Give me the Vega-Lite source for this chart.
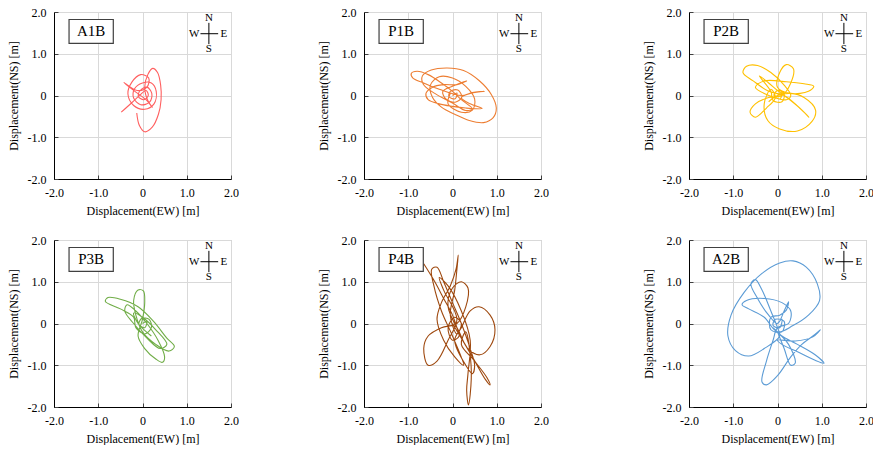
{
"$schema":"https://vega.github.io/schema/vega-lite/v6.json",
"background":"#ffffff",
"padding":{"left":6,"top":5,"right":0,"bottom":0},
"config":{
 "view":{"stroke":"#bfbfbf","strokeWidth":1},
 "text":{"font":"Liberation Serif"}
},
"datasets":{"traj":[
{"p":"A1B","i":0,"x":-0.48,"y":-0.40},{"p":"A1B","i":1,"x":-0.25,"y":-0.18},{"p":"A1B","i":2,"x":-0.05,"y":0.02},{"p":"A1B","i":3,"x":0.08,"y":0.12},{"p":"A1B","i":4,"x":0.13,"y":0.0},{"p":"A1B","i":5,"x":0.03,"y":-0.10},{"p":"A1B","i":6,"x":-0.09,"y":-0.03},{"p":"A1B","i":7,"x":-0.05,"y":0.12},{"p":"A1B","i":8,"x":0.10,"y":0.20},{"p":"A1B","i":9,"x":0.21,"y":0.05},{"p":"A1B","i":10,"x":0.16,"y":-0.16},{"p":"A1B","i":11,"x":-0.04,"y":-0.22},{"p":"A1B","i":12,"x":-0.20,"y":-0.06},{"p":"A1B","i":13,"x":-0.18,"y":0.16},{"p":"A1B","i":14,"x":0.0,"y":0.30},{"p":"A1B","i":15,"x":0.20,"y":0.30},{"p":"A1B","i":16,"x":0.31,"y":0.10},{"p":"A1B","i":17,"x":0.26,"y":-0.20},{"p":"A1B","i":18,"x":0.05,"y":-0.33},{"p":"A1B","i":19,"x":-0.20,"y":-0.24},{"p":"A1B","i":20,"x":-0.33,"y":0.04},{"p":"A1B","i":21,"x":-0.24,"y":0.32},{"p":"A1B","i":22,"x":-0.04,"y":0.50},{"p":"A1B","i":23,"x":0.14,"y":0.42},{"p":"A1B","i":24,"x":0.10,"y":0.20},{"p":"A1B","i":25,"x":-0.12,"y":0.12},{"p":"A1B","i":26,"x":-0.42,"y":0.31},{"p":"A1B","i":27,"x":-0.15,"y":0.08},{"p":"A1B","i":28,"x":0.10,"y":-0.12},{"p":"A1B","i":29,"x":0.22,"y":-0.28},{"p":"A1B","i":30,"x":0.12,"y":-0.12},{"p":"A1B","i":31,"x":0.05,"y":0.20},{"p":"A1B","i":32,"x":0.12,"y":0.50},{"p":"A1B","i":33,"x":0.23,"y":0.65},{"p":"A1B","i":34,"x":0.34,"y":0.55},{"p":"A1B","i":35,"x":0.41,"y":0.25},{"p":"A1B","i":36,"x":0.42,"y":-0.10},{"p":"A1B","i":37,"x":0.36,"y":-0.45},{"p":"A1B","i":38,"x":0.22,"y":-0.76},{"p":"A1B","i":39,"x":0.05,"y":-0.87},{"p":"A1B","i":40,"x":-0.07,"y":-0.72},{"p":"A1B","i":41,"x":-0.13,"y":-0.42},
{"p":"P1B","i":0,"x":0.0,"y":0.0},{"p":"P1B","i":1,"x":0.10,"y":0.06},{"p":"P1B","i":2,"x":0.06,"y":-0.08},{"p":"P1B","i":3,"x":-0.08,"y":-0.03},{"p":"P1B","i":4,"x":-0.05,"y":0.10},{"p":"P1B","i":5,"x":0.12,"y":0.13},{"p":"P1B","i":6,"x":0.21,"y":-0.04},{"p":"P1B","i":7,"x":0.06,"y":-0.16},{"p":"P1B","i":8,"x":-0.15,"y":-0.08},{"p":"P1B","i":9,"x":-0.22,"y":0.10},{"p":"P1B","i":10,"x":0.0,"y":0.22},{"p":"P1B","i":11,"x":0.15,"y":0.29},{"p":"P1B","i":12,"x":0.32,"y":0.35},{"p":"P1B","i":13,"x":0.10,"y":0.26},{"p":"P1B","i":14,"x":-0.20,"y":0.26},{"p":"P1B","i":15,"x":-0.45,"y":0.20},{"p":"P1B","i":16,"x":-0.60,"y":0.05},{"p":"P1B","i":17,"x":-0.55,"y":-0.10},{"p":"P1B","i":18,"x":-0.30,"y":-0.20},{"p":"P1B","i":19,"x":0.0,"y":-0.26},{"p":"P1B","i":20,"x":0.30,"y":-0.30},{"p":"P1B","i":21,"x":0.67,"y":-0.31},{"p":"P1B","i":22,"x":0.40,"y":-0.20},{"p":"P1B","i":23,"x":0.20,"y":-0.05},{"p":"P1B","i":24,"x":0.40,"y":0.05},{"p":"P1B","i":25,"x":0.72,"y":0.10},{"p":"P1B","i":26,"x":0.45,"y":0.07},{"p":"P1B","i":27,"x":0.20,"y":0.0},{"p":"P1B","i":28,"x":-0.30,"y":0.15},{"p":"P1B","i":29,"x":-0.65,"y":0.30},{"p":"P1B","i":30,"x":-0.90,"y":0.42},{"p":"P1B","i":31,"x":-0.93,"y":0.53},{"p":"P1B","i":32,"x":-0.80,"y":0.58},{"p":"P1B","i":33,"x":-0.55,"y":0.50},{"p":"P1B","i":34,"x":-0.25,"y":0.30},{"p":"P1B","i":35,"x":0.0,"y":0.10},{"p":"P1B","i":36,"x":0.20,"y":-0.10},{"p":"P1B","i":37,"x":0.45,"y":-0.32},{"p":"P1B","i":38,"x":0.30,"y":-0.36},{"p":"P1B","i":39,"x":0.0,"y":-0.18},{"p":"P1B","i":40,"x":-0.40,"y":0.05},{"p":"P1B","i":41,"x":-0.66,"y":0.27},{"p":"P1B","i":42,"x":-0.68,"y":0.47},{"p":"P1B","i":43,"x":-0.48,"y":0.61},{"p":"P1B","i":44,"x":-0.12,"y":0.66},{"p":"P1B","i":45,"x":0.25,"y":0.60},{"p":"P1B","i":46,"x":0.60,"y":0.36},{"p":"P1B","i":47,"x":0.88,"y":0.02},{"p":"P1B","i":48,"x":0.99,"y":-0.30},{"p":"P1B","i":49,"x":0.92,"y":-0.53},{"p":"P1B","i":50,"x":0.70,"y":-0.65},{"p":"P1B","i":51,"x":0.38,"y":-0.60},{"p":"P1B","i":52,"x":0.05,"y":-0.45},{"p":"P1B","i":53,"x":-0.25,"y":-0.28},{"p":"P1B","i":54,"x":-0.45,"y":-0.05},{"p":"P1B","i":55,"x":-0.50,"y":0.25},{"p":"P1B","i":56,"x":-0.30,"y":0.45},{"p":"P1B","i":57,"x":0.0,"y":0.42},{"p":"P1B","i":58,"x":0.30,"y":0.22},{"p":"P1B","i":59,"x":0.50,"y":-0.08},{"p":"P1B","i":60,"x":0.45,"y":-0.35},{"p":"P1B","i":61,"x":0.20,"y":-0.40},{"p":"P1B","i":62,"x":-0.10,"y":-0.20},{"p":"P1B","i":63,"x":-0.05,"y":0.05},
{"p":"P2B","i":0,"x":0.0,"y":0.0},{"p":"P2B","i":1,"x":0.10,"y":0.08},{"p":"P2B","i":2,"x":0.06,"y":-0.08},{"p":"P2B","i":3,"x":-0.08,"y":0.0},{"p":"P2B","i":4,"x":0.0,"y":0.12},{"p":"P2B","i":5,"x":0.15,"y":0.05},{"p":"P2B","i":6,"x":0.10,"y":-0.15},{"p":"P2B","i":7,"x":-0.10,"y":-0.12},{"p":"P2B","i":8,"x":-0.15,"y":0.10},{"p":"P2B","i":9,"x":-0.41,"y":0.47},{"p":"P2B","i":10,"x":-0.20,"y":0.30},{"p":"P2B","i":11,"x":0.0,"y":0.12},{"p":"P2B","i":12,"x":0.25,"y":-0.08},{"p":"P2B","i":13,"x":0.50,"y":-0.30},{"p":"P2B","i":14,"x":0.71,"y":-0.52},{"p":"P2B","i":15,"x":0.45,"y":-0.25},{"p":"P2B","i":16,"x":0.15,"y":0.0},{"p":"P2B","i":17,"x":-0.20,"y":0.10},{"p":"P2B","i":18,"x":-0.55,"y":0.35},{"p":"P2B","i":19,"x":-0.78,"y":0.55},{"p":"P2B","i":20,"x":-0.70,"y":0.70},{"p":"P2B","i":21,"x":-0.45,"y":0.72},{"p":"P2B","i":22,"x":-0.15,"y":0.55},{"p":"P2B","i":23,"x":0.15,"y":0.25},{"p":"P2B","i":24,"x":0.30,"y":0.0},{"p":"P2B","i":25,"x":0.20,"y":-0.10},{"p":"P2B","i":26,"x":-0.30,"y":0.05},{"p":"P2B","i":27,"x":-0.50,"y":0.20},{"p":"P2B","i":28,"x":-0.30,"y":0.35},{"p":"P2B","i":29,"x":0.20,"y":0.33},{"p":"P2B","i":30,"x":0.60,"y":0.28},{"p":"P2B","i":31,"x":0.82,"y":0.22},{"p":"P2B","i":32,"x":0.70,"y":0.10},{"p":"P2B","i":33,"x":0.30,"y":0.05},{"p":"P2B","i":34,"x":0.0,"y":0.20},{"p":"P2B","i":35,"x":0.05,"y":0.55},{"p":"P2B","i":36,"x":0.20,"y":0.74},{"p":"P2B","i":37,"x":0.36,"y":0.64},{"p":"P2B","i":38,"x":0.30,"y":0.30},{"p":"P2B","i":39,"x":0.10,"y":0.0},{"p":"P2B","i":40,"x":-0.20,"y":-0.05},{"p":"P2B","i":41,"x":-0.50,"y":-0.20},{"p":"P2B","i":42,"x":-0.62,"y":-0.40},{"p":"P2B","i":43,"x":-0.50,"y":-0.52},{"p":"P2B","i":44,"x":-0.25,"y":-0.30},{"p":"P2B","i":45,"x":-0.05,"y":-0.05},{"p":"P2B","i":46,"x":-0.15,"y":0.15},{"p":"P2B","i":47,"x":-0.30,"y":-0.20},{"p":"P2B","i":48,"x":-0.22,"y":-0.60},{"p":"P2B","i":49,"x":0.05,"y":-0.80},{"p":"P2B","i":50,"x":0.45,"y":-0.85},{"p":"P2B","i":51,"x":0.78,"y":-0.62},{"p":"P2B","i":52,"x":0.86,"y":-0.35},{"p":"P2B","i":53,"x":0.60,"y":-0.05},{"p":"P2B","i":54,"x":0.30,"y":0.05},{"p":"P2B","i":55,"x":0.0,"y":0.0},{"p":"P2B","i":56,"x":-0.20,"y":-0.15},
{"p":"P3B","i":0,"x":0.0,"y":0.0},{"p":"P3B","i":1,"x":0.10,"y":0.05},{"p":"P3B","i":2,"x":0.05,"y":-0.10},{"p":"P3B","i":3,"x":-0.08,"y":-0.02},{"p":"P3B","i":4,"x":-0.02,"y":0.12},{"p":"P3B","i":5,"x":0.15,"y":0.10},{"p":"P3B","i":6,"x":0.20,"y":-0.10},{"p":"P3B","i":7,"x":0.05,"y":-0.25},{"p":"P3B","i":8,"x":-0.15,"y":-0.10},{"p":"P3B","i":9,"x":-0.20,"y":0.15},{"p":"P3B","i":10,"x":-0.50,"y":0.35},{"p":"P3B","i":11,"x":-0.84,"y":0.53},{"p":"P3B","i":12,"x":-0.78,"y":0.62},{"p":"P3B","i":13,"x":-0.50,"y":0.58},{"p":"P3B","i":14,"x":-0.10,"y":0.40},{"p":"P3B","i":15,"x":0.25,"y":0.05},{"p":"P3B","i":16,"x":0.55,"y":-0.35},{"p":"P3B","i":17,"x":0.72,"y":-0.55},{"p":"P3B","i":18,"x":0.60,"y":-0.66},{"p":"P3B","i":19,"x":0.30,"y":-0.50},{"p":"P3B","i":20,"x":0.0,"y":-0.20},{"p":"P3B","i":21,"x":-0.15,"y":0.20},{"p":"P3B","i":22,"x":-0.20,"y":0.55},{"p":"P3B","i":23,"x":-0.10,"y":0.80},{"p":"P3B","i":24,"x":0.02,"y":0.78},{"p":"P3B","i":25,"x":0.05,"y":0.50},{"p":"P3B","i":26,"x":0.0,"y":0.10},{"p":"P3B","i":27,"x":-0.10,"y":-0.30},{"p":"P3B","i":28,"x":0.05,"y":-0.60},{"p":"P3B","i":29,"x":0.30,"y":-0.85},{"p":"P3B","i":30,"x":0.45,"y":-0.93},{"p":"P3B","i":31,"x":0.50,"y":-0.80},{"p":"P3B","i":32,"x":0.35,"y":-0.40},{"p":"P3B","i":33,"x":0.10,"y":0.0},{"p":"P3B","i":34,"x":-0.15,"y":0.30},{"p":"P3B","i":35,"x":-0.35,"y":0.45},{"p":"P3B","i":36,"x":-0.40,"y":0.30},{"p":"P3B","i":37,"x":-0.20,"y":0.0},{"p":"P3B","i":38,"x":0.10,"y":-0.35},{"p":"P3B","i":39,"x":0.40,"y":-0.60},{"p":"P3B","i":40,"x":0.55,"y":-0.50},{"p":"P3B","i":41,"x":0.30,"y":-0.15},{"p":"P3B","i":42,"x":0.0,"y":0.15},{"p":"P3B","i":43,"x":-0.20,"y":0.25},{"p":"P3B","i":44,"x":-0.10,"y":0.0},{"p":"P3B","i":45,"x":0.20,"y":-0.30},
{"p":"P4B","i":0,"x":-0.65,"y":1.43},{"p":"P4B","i":1,"x":-0.40,"y":1.00},{"p":"P4B","i":2,"x":-0.20,"y":0.60},{"p":"P4B","i":3,"x":0.0,"y":0.20},{"p":"P4B","i":4,"x":0.10,"y":-0.10},{"p":"P4B","i":5,"x":0.15,"y":-0.30},{"p":"P4B","i":6,"x":0.0,"y":-0.40},{"p":"P4B","i":7,"x":-0.10,"y":-0.10},{"p":"P4B","i":8,"x":0.05,"y":0.15},{"p":"P4B","i":9,"x":0.20,"y":0.0},{"p":"P4B","i":10,"x":0.10,"y":-0.25},{"p":"P4B","i":11,"x":-0.05,"y":0.20},{"p":"P4B","i":12,"x":0.05,"y":0.80},{"p":"P4B","i":13,"x":0.10,"y":1.30},{"p":"P4B","i":14,"x":0.13,"y":1.64},{"p":"P4B","i":15,"x":0.08,"y":1.30},{"p":"P4B","i":16,"x":-0.05,"y":0.90},{"p":"P4B","i":17,"x":-0.25,"y":0.50},{"p":"P4B","i":18,"x":-0.35,"y":0.10},{"p":"P4B","i":19,"x":-0.20,"y":-0.40},{"p":"P4B","i":20,"x":0.05,"y":-0.80},{"p":"P4B","i":21,"x":0.25,"y":-1.00},{"p":"P4B","i":22,"x":0.0,"y":-0.30},{"p":"P4B","i":23,"x":-0.25,"y":0.30},{"p":"P4B","i":24,"x":-0.42,"y":0.90},{"p":"P4B","i":25,"x":-0.47,"y":1.30},{"p":"P4B","i":26,"x":-0.35,"y":1.35},{"p":"P4B","i":27,"x":-0.20,"y":1.00},{"p":"P4B","i":28,"x":0.0,"y":0.50},{"p":"P4B","i":29,"x":0.20,"y":0.0},{"p":"P4B","i":30,"x":0.40,"y":-0.60},{"p":"P4B","i":31,"x":0.50,"y":-1.00},{"p":"P4B","i":32,"x":0.45,"y":-1.20},{"p":"P4B","i":33,"x":0.30,"y":-1.00},{"p":"P4B","i":34,"x":0.05,"y":-0.40},{"p":"P4B","i":35,"x":0.20,"y":-0.10},{"p":"P4B","i":36,"x":0.40,"y":0.30},{"p":"P4B","i":37,"x":0.60,"y":0.40},{"p":"P4B","i":38,"x":0.85,"y":0.20},{"p":"P4B","i":39,"x":0.96,"y":-0.15},{"p":"P4B","i":40,"x":0.85,"y":-0.55},{"p":"P4B","i":41,"x":0.62,"y":-0.75},{"p":"P4B","i":42,"x":0.35,"y":-0.60},{"p":"P4B","i":43,"x":0.15,"y":-0.20},{"p":"P4B","i":44,"x":-0.10,"y":0.40},{"p":"P4B","i":45,"x":0.0,"y":0.85},{"p":"P4B","i":46,"x":0.20,"y":1.00},{"p":"P4B","i":47,"x":0.35,"y":0.85},{"p":"P4B","i":48,"x":0.30,"y":0.40},{"p":"P4B","i":49,"x":0.10,"y":0.0},{"p":"P4B","i":50,"x":-0.25,"y":-0.10},{"p":"P4B","i":51,"x":-0.55,"y":-0.30},{"p":"P4B","i":52,"x":-0.65,"y":-0.60},{"p":"P4B","i":53,"x":-0.55,"y":-1.00},{"p":"P4B","i":54,"x":-0.35,"y":-0.90},{"p":"P4B","i":55,"x":-0.10,"y":-0.40},{"p":"P4B","i":56,"x":0.10,"y":0.10},{"p":"P4B","i":57,"x":-0.20,"y":0.80},{"p":"P4B","i":58,"x":-0.30,"y":1.10},{"p":"P4B","i":59,"x":-0.10,"y":0.90},{"p":"P4B","i":60,"x":0.20,"y":0.30},{"p":"P4B","i":61,"x":0.40,"y":-0.40},{"p":"P4B","i":62,"x":0.35,"y":-1.20},{"p":"P4B","i":63,"x":0.32,"y":-1.60},{"p":"P4B","i":64,"x":0.36,"y":-1.95},{"p":"P4B","i":65,"x":0.40,"y":-1.70},{"p":"P4B","i":66,"x":0.42,"y":-1.00},{"p":"P4B","i":67,"x":0.30,"y":-0.20},{"p":"P4B","i":68,"x":0.20,"y":-0.50},{"p":"P4B","i":69,"x":0.50,"y":-0.90},{"p":"P4B","i":70,"x":0.78,"y":-1.30},{"p":"P4B","i":71,"x":0.85,"y":-1.47},{"p":"P4B","i":72,"x":0.75,"y":-1.35},{"p":"P4B","i":73,"x":0.45,"y":-0.80},{"p":"P4B","i":74,"x":0.20,"y":-0.35},{"p":"P4B","i":75,"x":0.0,"y":0.0},
{"p":"A2B","i":0,"x":0.0,"y":0.0},{"p":"A2B","i":1,"x":0.10,"y":0.10},{"p":"A2B","i":2,"x":0.05,"y":-0.10},{"p":"A2B","i":3,"x":-0.10,"y":-0.05},{"p":"A2B","i":4,"x":-0.05,"y":0.10},{"p":"A2B","i":5,"x":0.15,"y":0.05},{"p":"A2B","i":6,"x":0.10,"y":-0.20},{"p":"A2B","i":7,"x":-0.15,"y":-0.15},{"p":"A2B","i":8,"x":-0.15,"y":0.15},{"p":"A2B","i":9,"x":0.05,"y":0.20},{"p":"A2B","i":10,"x":0.20,"y":0.32},{"p":"A2B","i":11,"x":0.25,"y":0.52},{"p":"A2B","i":12,"x":0.15,"y":0.30},{"p":"A2B","i":13,"x":0.0,"y":0.0},{"p":"A2B","i":14,"x":-0.20,"y":0.20},{"p":"A2B","i":15,"x":-0.45,"y":0.60},{"p":"A2B","i":16,"x":-0.60,"y":0.95},{"p":"A2B","i":17,"x":-0.50,"y":1.05},{"p":"A2B","i":18,"x":-0.35,"y":0.80},{"p":"A2B","i":19,"x":-0.15,"y":0.30},{"p":"A2B","i":20,"x":0.0,"y":-0.10},{"p":"A2B","i":21,"x":0.05,"y":-0.30},{"p":"A2B","i":22,"x":-0.30,"y":-0.60},{"p":"A2B","i":23,"x":-0.65,"y":-0.78},{"p":"A2B","i":24,"x":-0.95,"y":-0.65},{"p":"A2B","i":25,"x":-1.12,"y":-0.30},{"p":"A2B","i":26,"x":-1.05,"y":0.20},{"p":"A2B","i":27,"x":-0.75,"y":0.75},{"p":"A2B","i":28,"x":-0.35,"y":1.20},{"p":"A2B","i":29,"x":0.05,"y":1.45},{"p":"A2B","i":30,"x":0.35,"y":1.50},{"p":"A2B","i":31,"x":0.65,"y":1.35},{"p":"A2B","i":32,"x":0.90,"y":0.95},{"p":"A2B","i":33,"x":0.95,"y":0.55},{"p":"A2B","i":34,"x":0.70,"y":0.20},{"p":"A2B","i":35,"x":0.35,"y":-0.05},{"p":"A2B","i":36,"x":0.0,"y":-0.20},{"p":"A2B","i":37,"x":-0.30,"y":0.15},{"p":"A2B","i":38,"x":-0.65,"y":0.35},{"p":"A2B","i":39,"x":-0.80,"y":0.45},{"p":"A2B","i":40,"x":-0.70,"y":0.55},{"p":"A2B","i":41,"x":-0.30,"y":0.60},{"p":"A2B","i":42,"x":0.10,"y":0.50},{"p":"A2B","i":43,"x":0.30,"y":0.30},{"p":"A2B","i":44,"x":0.25,"y":0.0},{"p":"A2B","i":45,"x":0.0,"y":-0.10},{"p":"A2B","i":46,"x":-0.10,"y":-0.40},{"p":"A2B","i":47,"x":-0.25,"y":-0.90},{"p":"A2B","i":48,"x":-0.35,"y":-1.40},{"p":"A2B","i":49,"x":-0.25,"y":-1.47},{"p":"A2B","i":50,"x":0.0,"y":-1.25},{"p":"A2B","i":51,"x":0.30,"y":-0.80},{"p":"A2B","i":52,"x":0.55,"y":-0.50},{"p":"A2B","i":53,"x":0.80,"y":-0.30},{"p":"A2B","i":54,"x":0.97,"y":-0.15},{"p":"A2B","i":55,"x":0.80,"y":-0.32},{"p":"A2B","i":56,"x":0.40,"y":-0.42},{"p":"A2B","i":57,"x":0.0,"y":-0.40},{"p":"A2B","i":58,"x":0.10,"y":-0.50},{"p":"A2B","i":59,"x":0.50,"y":-0.70},{"p":"A2B","i":60,"x":0.85,"y":-0.88},{"p":"A2B","i":61,"x":1.05,"y":-0.95},{"p":"A2B","i":62,"x":0.85,"y":-0.75},{"p":"A2B","i":63,"x":0.45,"y":-0.50},{"p":"A2B","i":64,"x":0.10,"y":-0.30},{"p":"A2B","i":65,"x":-0.10,"y":-0.10},{"p":"A2B","i":66,"x":0.25,"y":-0.50},{"p":"A2B","i":67,"x":0.40,"y":-0.95},{"p":"A2B","i":68,"x":0.30,"y":-1.00},{"p":"A2B","i":69,"x":0.15,"y":-0.60},{"p":"A2B","i":70,"x":0.0,"y":-0.20}
]},
"vconcat":[
 {"hconcat":[
  {"hconcat":[
   {"width":177,"height":167,"layer":[
    {"data":{"name":"traj"},"transform":[{"filter":"datum.p === 'A1B'"}],"mark":{"type":"line","interpolate":"catmull-rom","color":"#ff5f5f","strokeWidth":1.1},"encoding":{"x":{"field":"x","type":"quantitative","scale":{"domain":[-2,2],"nice":false,"zero":false},"axis":{"title":"Displacement(EW) [m]","values":[-2,-1.5,-1,-0.5,0,0.5,1,1.5,2],"labelExpr":"datum.value === 0 ? '0' : (abs(datum.value) % 1 > 0 ? '' : (datum.value < 0 ? '-' : '') + format(abs(datum.value), '.1f'))","labelFont":"Liberation Serif","labelFontSize":12,"labelColor":"#000000","titleFont":"Liberation Serif","titleFontSize":12,"titleFontWeight":"normal","titleColor":"#000000","gridColor":"#d9d9d9","domainColor":"#000000","tickColor":"#404040","tickSize":-4,"labelPadding":12,"labelFlush":false,"labelOverlap":false,"titlePadding":7}},"y":{"field":"y","type":"quantitative","scale":{"domain":[-2,2],"nice":false,"zero":false},"axis":{"title":"Displacement(NS) [m]","values":[-2,-1.5,-1,-0.5,0,0.5,1,1.5,2],"labelExpr":"datum.value === 0 ? '0' : (abs(datum.value) % 1 > 0 ? '' : (datum.value < 0 ? '-' : '') + format(abs(datum.value), '.1f'))","labelFont":"Liberation Serif","labelFontSize":12,"labelColor":"#000000","titleFont":"Liberation Serif","titleFontSize":12,"titleFontWeight":"normal","titleColor":"#000000","gridColor":"#d9d9d9","domainColor":"#000000","tickColor":"#404040","tickSize":-4,"labelPadding":12,"labelFlush":false,"labelOverlap":false,"titlePadding":7}},"order":{"field":"i","type":"quantitative"}}},
    {"data":{"values":[{}]},"mark":{"type":"rect","fill":"#ffffff","stroke":"#404040","strokeWidth":1.2},"encoding":{"x":{"datum":-1.66},"x2":{"datum":-0.66},"y":{"datum":1.82},"y2":{"datum":1.25}}},
    {"data":{"values":[{}]},"mark":{"type":"text","fontSize":15},"encoding":{"x":{"datum":-1.16},"y":{"datum":1.535},"text":{"value":"A1B"}}},
    {"data":{"values":[{}]},"mark":{"type":"rule","color":"#000000","strokeWidth":1},"encoding":{"x":{"datum":1.31},"x2":{"datum":1.71},"y":{"datum":1.48}}},
    {"data":{"values":[{}]},"mark":{"type":"rule","color":"#000000","strokeWidth":1},"encoding":{"x":{"datum":1.5},"y":{"datum":1.23},"y2":{"datum":1.74}}},
    {"data":{"values":[{}]},"mark":{"type":"text","fontSize":11},"encoding":{"x":{"datum":1.5},"y":{"datum":1.86},"text":{"value":"N"}}},
    {"data":{"values":[{}]},"mark":{"type":"text","fontSize":11},"encoding":{"x":{"datum":1.5},"y":{"datum":1.11},"text":{"value":"S"}}},
    {"data":{"values":[{}]},"mark":{"type":"text","fontSize":11},"encoding":{"x":{"datum":1.17},"y":{"datum":1.48},"text":{"value":"W"}}},
    {"data":{"values":[{}]},"mark":{"type":"text","fontSize":11},"encoding":{"x":{"datum":1.84},"y":{"datum":1.48},"text":{"value":"E"}}}
   ]},
   {"width":177,"height":167,"layer":[
    {"data":{"name":"traj"},"transform":[{"filter":"datum.p === 'P1B'"}],"mark":{"type":"line","interpolate":"catmull-rom","color":"#ed7d31","strokeWidth":1.1},"encoding":{"x":{"field":"x","type":"quantitative","scale":{"domain":[-2,2],"nice":false,"zero":false},"axis":{"title":"Displacement(EW) [m]","values":[-2,-1.5,-1,-0.5,0,0.5,1,1.5,2],"labelExpr":"datum.value === 0 ? '0' : (abs(datum.value) % 1 > 0 ? '' : (datum.value < 0 ? '-' : '') + format(abs(datum.value), '.1f'))","labelFont":"Liberation Serif","labelFontSize":12,"labelColor":"#000000","titleFont":"Liberation Serif","titleFontSize":12,"titleFontWeight":"normal","titleColor":"#000000","gridColor":"#d9d9d9","domainColor":"#000000","tickColor":"#404040","tickSize":-4,"labelPadding":12,"labelFlush":false,"labelOverlap":false,"titlePadding":7}},"y":{"field":"y","type":"quantitative","scale":{"domain":[-2,2],"nice":false,"zero":false},"axis":{"title":"Displacement(NS) [m]","values":[-2,-1.5,-1,-0.5,0,0.5,1,1.5,2],"labelExpr":"datum.value === 0 ? '0' : (abs(datum.value) % 1 > 0 ? '' : (datum.value < 0 ? '-' : '') + format(abs(datum.value), '.1f'))","labelFont":"Liberation Serif","labelFontSize":12,"labelColor":"#000000","titleFont":"Liberation Serif","titleFontSize":12,"titleFontWeight":"normal","titleColor":"#000000","gridColor":"#d9d9d9","domainColor":"#000000","tickColor":"#404040","tickSize":-4,"labelPadding":12,"labelFlush":false,"labelOverlap":false,"titlePadding":7}},"order":{"field":"i","type":"quantitative"}}},
    {"data":{"values":[{}]},"mark":{"type":"rect","fill":"#ffffff","stroke":"#404040","strokeWidth":1.2},"encoding":{"x":{"datum":-1.66},"x2":{"datum":-0.66},"y":{"datum":1.82},"y2":{"datum":1.25}}},
    {"data":{"values":[{}]},"mark":{"type":"text","fontSize":15},"encoding":{"x":{"datum":-1.16},"y":{"datum":1.535},"text":{"value":"P1B"}}},
    {"data":{"values":[{}]},"mark":{"type":"rule","color":"#000000","strokeWidth":1},"encoding":{"x":{"datum":1.31},"x2":{"datum":1.71},"y":{"datum":1.48}}},
    {"data":{"values":[{}]},"mark":{"type":"rule","color":"#000000","strokeWidth":1},"encoding":{"x":{"datum":1.5},"y":{"datum":1.23},"y2":{"datum":1.74}}},
    {"data":{"values":[{}]},"mark":{"type":"text","fontSize":11},"encoding":{"x":{"datum":1.5},"y":{"datum":1.86},"text":{"value":"N"}}},
    {"data":{"values":[{}]},"mark":{"type":"text","fontSize":11},"encoding":{"x":{"datum":1.5},"y":{"datum":1.11},"text":{"value":"S"}}},
    {"data":{"values":[{}]},"mark":{"type":"text","fontSize":11},"encoding":{"x":{"datum":1.17},"y":{"datum":1.48},"text":{"value":"W"}}},
    {"data":{"values":[{}]},"mark":{"type":"text","fontSize":11},"encoding":{"x":{"datum":1.84},"y":{"datum":1.48},"text":{"value":"E"}}}
   ]}
  ],"spacing":77},
  {"width":177,"height":167,"layer":[
    {"data":{"name":"traj"},"transform":[{"filter":"datum.p === 'P2B'"}],"mark":{"type":"line","interpolate":"catmull-rom","color":"#ffc000","strokeWidth":1.1},"encoding":{"x":{"field":"x","type":"quantitative","scale":{"domain":[-2,2],"nice":false,"zero":false},"axis":{"title":"Displacement(EW) [m]","values":[-2,-1.5,-1,-0.5,0,0.5,1,1.5,2],"labelExpr":"datum.value === 0 ? '0' : (abs(datum.value) % 1 > 0 ? '' : (datum.value < 0 ? '-' : '') + format(abs(datum.value), '.1f'))","labelFont":"Liberation Serif","labelFontSize":12,"labelColor":"#000000","titleFont":"Liberation Serif","titleFontSize":12,"titleFontWeight":"normal","titleColor":"#000000","gridColor":"#d9d9d9","domainColor":"#000000","tickColor":"#404040","tickSize":-4,"labelPadding":12,"labelFlush":false,"labelOverlap":false,"titlePadding":7}},"y":{"field":"y","type":"quantitative","scale":{"domain":[-2,2],"nice":false,"zero":false},"axis":{"title":"Displacement(NS) [m]","values":[-2,-1.5,-1,-0.5,0,0.5,1,1.5,2],"labelExpr":"datum.value === 0 ? '0' : (abs(datum.value) % 1 > 0 ? '' : (datum.value < 0 ? '-' : '') + format(abs(datum.value), '.1f'))","labelFont":"Liberation Serif","labelFontSize":12,"labelColor":"#000000","titleFont":"Liberation Serif","titleFontSize":12,"titleFontWeight":"normal","titleColor":"#000000","gridColor":"#d9d9d9","domainColor":"#000000","tickColor":"#404040","tickSize":-4,"labelPadding":12,"labelFlush":false,"labelOverlap":false,"titlePadding":7}},"order":{"field":"i","type":"quantitative"}}},
    {"data":{"values":[{}]},"mark":{"type":"rect","fill":"#ffffff","stroke":"#404040","strokeWidth":1.2},"encoding":{"x":{"datum":-1.66},"x2":{"datum":-0.66},"y":{"datum":1.82},"y2":{"datum":1.25}}},
    {"data":{"values":[{}]},"mark":{"type":"text","fontSize":15},"encoding":{"x":{"datum":-1.16},"y":{"datum":1.535},"text":{"value":"P2B"}}},
    {"data":{"values":[{}]},"mark":{"type":"rule","color":"#000000","strokeWidth":1},"encoding":{"x":{"datum":1.31},"x2":{"datum":1.71},"y":{"datum":1.48}}},
    {"data":{"values":[{}]},"mark":{"type":"rule","color":"#000000","strokeWidth":1},"encoding":{"x":{"datum":1.5},"y":{"datum":1.23},"y2":{"datum":1.74}}},
    {"data":{"values":[{}]},"mark":{"type":"text","fontSize":11},"encoding":{"x":{"datum":1.5},"y":{"datum":1.86},"text":{"value":"N"}}},
    {"data":{"values":[{}]},"mark":{"type":"text","fontSize":11},"encoding":{"x":{"datum":1.5},"y":{"datum":1.11},"text":{"value":"S"}}},
    {"data":{"values":[{}]},"mark":{"type":"text","fontSize":11},"encoding":{"x":{"datum":1.17},"y":{"datum":1.48},"text":{"value":"W"}}},
    {"data":{"values":[{}]},"mark":{"type":"text","fontSize":11},"encoding":{"x":{"datum":1.84},"y":{"datum":1.48},"text":{"value":"E"}}}
  ]}
 ],"spacing":92},
 {"hconcat":[
  {"hconcat":[
   {"width":177,"height":167,"layer":[
    {"data":{"name":"traj"},"transform":[{"filter":"datum.p === 'P3B'"}],"mark":{"type":"line","interpolate":"catmull-rom","color":"#70ad47","strokeWidth":1.1},"encoding":{"x":{"field":"x","type":"quantitative","scale":{"domain":[-2,2],"nice":false,"zero":false},"axis":{"title":"Displacement(EW) [m]","values":[-2,-1.5,-1,-0.5,0,0.5,1,1.5,2],"labelExpr":"datum.value === 0 ? '0' : (abs(datum.value) % 1 > 0 ? '' : (datum.value < 0 ? '-' : '') + format(abs(datum.value), '.1f'))","labelFont":"Liberation Serif","labelFontSize":12,"labelColor":"#000000","titleFont":"Liberation Serif","titleFontSize":12,"titleFontWeight":"normal","titleColor":"#000000","gridColor":"#d9d9d9","domainColor":"#000000","tickColor":"#404040","tickSize":-4,"labelPadding":12,"labelFlush":false,"labelOverlap":false,"titlePadding":7}},"y":{"field":"y","type":"quantitative","scale":{"domain":[-2,2],"nice":false,"zero":false},"axis":{"title":"Displacement(NS) [m]","values":[-2,-1.5,-1,-0.5,0,0.5,1,1.5,2],"labelExpr":"datum.value === 0 ? '0' : (abs(datum.value) % 1 > 0 ? '' : (datum.value < 0 ? '-' : '') + format(abs(datum.value), '.1f'))","labelFont":"Liberation Serif","labelFontSize":12,"labelColor":"#000000","titleFont":"Liberation Serif","titleFontSize":12,"titleFontWeight":"normal","titleColor":"#000000","gridColor":"#d9d9d9","domainColor":"#000000","tickColor":"#404040","tickSize":-4,"labelPadding":12,"labelFlush":false,"labelOverlap":false,"titlePadding":7}},"order":{"field":"i","type":"quantitative"}}},
    {"data":{"values":[{}]},"mark":{"type":"rect","fill":"#ffffff","stroke":"#404040","strokeWidth":1.2},"encoding":{"x":{"datum":-1.66},"x2":{"datum":-0.66},"y":{"datum":1.82},"y2":{"datum":1.25}}},
    {"data":{"values":[{}]},"mark":{"type":"text","fontSize":15},"encoding":{"x":{"datum":-1.16},"y":{"datum":1.535},"text":{"value":"P3B"}}},
    {"data":{"values":[{}]},"mark":{"type":"rule","color":"#000000","strokeWidth":1},"encoding":{"x":{"datum":1.31},"x2":{"datum":1.71},"y":{"datum":1.48}}},
    {"data":{"values":[{}]},"mark":{"type":"rule","color":"#000000","strokeWidth":1},"encoding":{"x":{"datum":1.5},"y":{"datum":1.23},"y2":{"datum":1.74}}},
    {"data":{"values":[{}]},"mark":{"type":"text","fontSize":11},"encoding":{"x":{"datum":1.5},"y":{"datum":1.86},"text":{"value":"N"}}},
    {"data":{"values":[{}]},"mark":{"type":"text","fontSize":11},"encoding":{"x":{"datum":1.5},"y":{"datum":1.11},"text":{"value":"S"}}},
    {"data":{"values":[{}]},"mark":{"type":"text","fontSize":11},"encoding":{"x":{"datum":1.17},"y":{"datum":1.48},"text":{"value":"W"}}},
    {"data":{"values":[{}]},"mark":{"type":"text","fontSize":11},"encoding":{"x":{"datum":1.84},"y":{"datum":1.48},"text":{"value":"E"}}}
   ]},
   {"width":177,"height":167,"layer":[
    {"data":{"name":"traj"},"transform":[{"filter":"datum.p === 'P4B'"}],"mark":{"type":"line","interpolate":"catmull-rom","color":"#9e480e","strokeWidth":1.1},"encoding":{"x":{"field":"x","type":"quantitative","scale":{"domain":[-2,2],"nice":false,"zero":false},"axis":{"title":"Displacement(EW) [m]","values":[-2,-1.5,-1,-0.5,0,0.5,1,1.5,2],"labelExpr":"datum.value === 0 ? '0' : (abs(datum.value) % 1 > 0 ? '' : (datum.value < 0 ? '-' : '') + format(abs(datum.value), '.1f'))","labelFont":"Liberation Serif","labelFontSize":12,"labelColor":"#000000","titleFont":"Liberation Serif","titleFontSize":12,"titleFontWeight":"normal","titleColor":"#000000","gridColor":"#d9d9d9","domainColor":"#000000","tickColor":"#404040","tickSize":-4,"labelPadding":12,"labelFlush":false,"labelOverlap":false,"titlePadding":7}},"y":{"field":"y","type":"quantitative","scale":{"domain":[-2,2],"nice":false,"zero":false},"axis":{"title":"Displacement(NS) [m]","values":[-2,-1.5,-1,-0.5,0,0.5,1,1.5,2],"labelExpr":"datum.value === 0 ? '0' : (abs(datum.value) % 1 > 0 ? '' : (datum.value < 0 ? '-' : '') + format(abs(datum.value), '.1f'))","labelFont":"Liberation Serif","labelFontSize":12,"labelColor":"#000000","titleFont":"Liberation Serif","titleFontSize":12,"titleFontWeight":"normal","titleColor":"#000000","gridColor":"#d9d9d9","domainColor":"#000000","tickColor":"#404040","tickSize":-4,"labelPadding":12,"labelFlush":false,"labelOverlap":false,"titlePadding":7}},"order":{"field":"i","type":"quantitative"}}},
    {"data":{"values":[{}]},"mark":{"type":"rect","fill":"#ffffff","stroke":"#404040","strokeWidth":1.2},"encoding":{"x":{"datum":-1.66},"x2":{"datum":-0.66},"y":{"datum":1.82},"y2":{"datum":1.25}}},
    {"data":{"values":[{}]},"mark":{"type":"text","fontSize":15},"encoding":{"x":{"datum":-1.16},"y":{"datum":1.535},"text":{"value":"P4B"}}},
    {"data":{"values":[{}]},"mark":{"type":"rule","color":"#000000","strokeWidth":1},"encoding":{"x":{"datum":1.31},"x2":{"datum":1.71},"y":{"datum":1.48}}},
    {"data":{"values":[{}]},"mark":{"type":"rule","color":"#000000","strokeWidth":1},"encoding":{"x":{"datum":1.5},"y":{"datum":1.23},"y2":{"datum":1.74}}},
    {"data":{"values":[{}]},"mark":{"type":"text","fontSize":11},"encoding":{"x":{"datum":1.5},"y":{"datum":1.86},"text":{"value":"N"}}},
    {"data":{"values":[{}]},"mark":{"type":"text","fontSize":11},"encoding":{"x":{"datum":1.5},"y":{"datum":1.11},"text":{"value":"S"}}},
    {"data":{"values":[{}]},"mark":{"type":"text","fontSize":11},"encoding":{"x":{"datum":1.17},"y":{"datum":1.48},"text":{"value":"W"}}},
    {"data":{"values":[{}]},"mark":{"type":"text","fontSize":11},"encoding":{"x":{"datum":1.84},"y":{"datum":1.48},"text":{"value":"E"}}}
   ]}
  ],"spacing":77},
  {"width":177,"height":167,"layer":[
    {"data":{"name":"traj"},"transform":[{"filter":"datum.p === 'A2B'"}],"mark":{"type":"line","interpolate":"catmull-rom","color":"#5b9bd5","strokeWidth":1.1},"encoding":{"x":{"field":"x","type":"quantitative","scale":{"domain":[-2,2],"nice":false,"zero":false},"axis":{"title":"Displacement(EW) [m]","values":[-2,-1.5,-1,-0.5,0,0.5,1,1.5,2],"labelExpr":"datum.value === 0 ? '0' : (abs(datum.value) % 1 > 0 ? '' : (datum.value < 0 ? '-' : '') + format(abs(datum.value), '.1f'))","labelFont":"Liberation Serif","labelFontSize":12,"labelColor":"#000000","titleFont":"Liberation Serif","titleFontSize":12,"titleFontWeight":"normal","titleColor":"#000000","gridColor":"#d9d9d9","domainColor":"#000000","tickColor":"#404040","tickSize":-4,"labelPadding":12,"labelFlush":false,"labelOverlap":false,"titlePadding":7}},"y":{"field":"y","type":"quantitative","scale":{"domain":[-2,2],"nice":false,"zero":false},"axis":{"title":"Displacement(NS) [m]","values":[-2,-1.5,-1,-0.5,0,0.5,1,1.5,2],"labelExpr":"datum.value === 0 ? '0' : (abs(datum.value) % 1 > 0 ? '' : (datum.value < 0 ? '-' : '') + format(abs(datum.value), '.1f'))","labelFont":"Liberation Serif","labelFontSize":12,"labelColor":"#000000","titleFont":"Liberation Serif","titleFontSize":12,"titleFontWeight":"normal","titleColor":"#000000","gridColor":"#d9d9d9","domainColor":"#000000","tickColor":"#404040","tickSize":-4,"labelPadding":12,"labelFlush":false,"labelOverlap":false,"titlePadding":7}},"order":{"field":"i","type":"quantitative"}}},
    {"data":{"values":[{}]},"mark":{"type":"rect","fill":"#ffffff","stroke":"#404040","strokeWidth":1.2},"encoding":{"x":{"datum":-1.66},"x2":{"datum":-0.66},"y":{"datum":1.82},"y2":{"datum":1.25}}},
    {"data":{"values":[{}]},"mark":{"type":"text","fontSize":15},"encoding":{"x":{"datum":-1.16},"y":{"datum":1.535},"text":{"value":"A2B"}}},
    {"data":{"values":[{}]},"mark":{"type":"rule","color":"#000000","strokeWidth":1},"encoding":{"x":{"datum":1.31},"x2":{"datum":1.71},"y":{"datum":1.48}}},
    {"data":{"values":[{}]},"mark":{"type":"rule","color":"#000000","strokeWidth":1},"encoding":{"x":{"datum":1.5},"y":{"datum":1.23},"y2":{"datum":1.74}}},
    {"data":{"values":[{}]},"mark":{"type":"text","fontSize":11},"encoding":{"x":{"datum":1.5},"y":{"datum":1.86},"text":{"value":"N"}}},
    {"data":{"values":[{}]},"mark":{"type":"text","fontSize":11},"encoding":{"x":{"datum":1.5},"y":{"datum":1.11},"text":{"value":"S"}}},
    {"data":{"values":[{}]},"mark":{"type":"text","fontSize":11},"encoding":{"x":{"datum":1.17},"y":{"datum":1.48},"text":{"value":"W"}}},
    {"data":{"values":[{}]},"mark":{"type":"text","fontSize":11},"encoding":{"x":{"datum":1.84},"y":{"datum":1.48},"text":{"value":"E"}}}
  ]}
 ],"spacing":92}
],"spacing":16
}
